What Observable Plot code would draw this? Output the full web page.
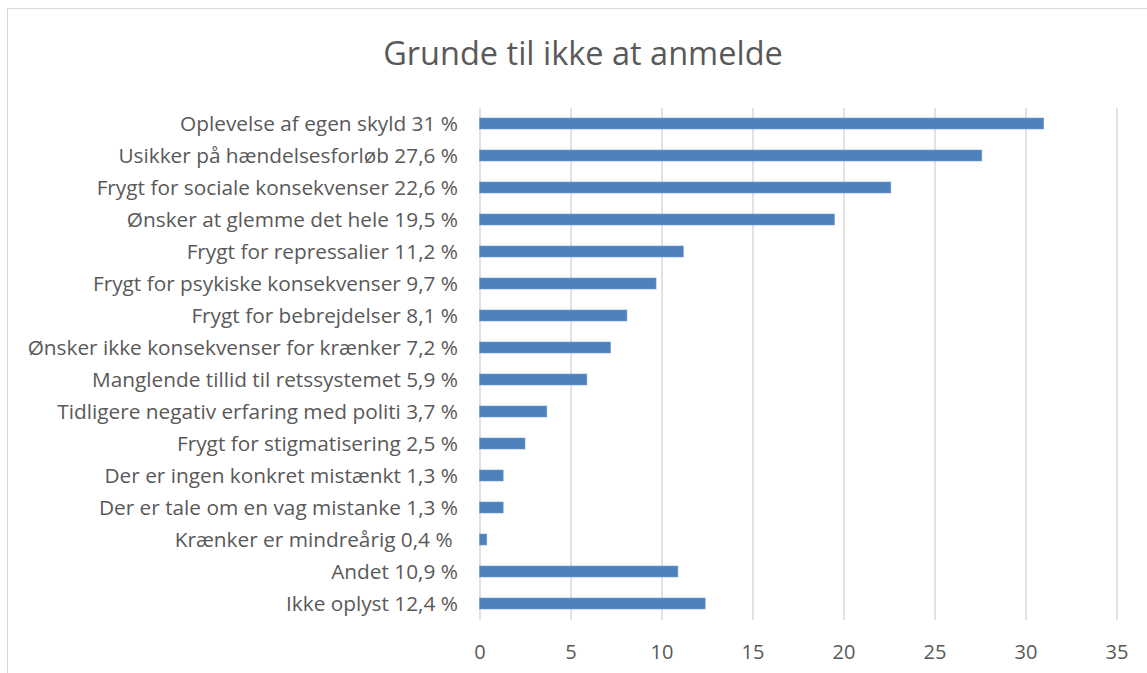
<!DOCTYPE html>
<html><head><meta charset="utf-8">
<script src="https://cdn.jsdelivr.net/npm/d3@7"></script>
<script src="https://cdn.jsdelivr.net/npm/@observablehq/plot@0.6"></script>
<style>
html,body{margin:0;padding:0;background:#fff;}
#wrap{position:relative;width:1140px;height:665px;margin-left:7px;margin-top:8px;border-left:1.5px solid #d9d9d9;border-top:1.5px solid #d9d9d9;overflow:hidden;}
#title{height:87px;line-height:88px;text-align:center;font-family:"Open Sans",sans-serif;font-size:32.5px;color:#595959;padding-left:10px;}
svg{display:block;}
</style></head>
<body>
<div id="wrap"><div id="title">Grunde til ikke at anmelde</div><div id="chart"></div></div>
<script>
const categories = [
  "Oplevelse af egen skyld 31 %",
  "Usikker på hændelsesforløb 27,6 %",
  "Frygt for sociale konsekvenser 22,6 %",
  "Ønsker at glemme det hele 19,5 %",
  "Frygt for repressalier 11,2 %",
  "Frygt for psykiske konsekvenser 9,7 %",
  "Frygt for bebrejdelser 8,1 %",
  "Ønsker ikke konsekvenser for krænker 7,2 %",
  "Manglende tillid til retssystemet 5,9 %",
  "Tidligere negativ erfaring med politi 3,7 %",
  "Frygt for stigmatisering 2,5 %",
  "Der er ingen konkret mistænkt 1,3 %",
  "Der er tale om en vag mistanke 1,3 %",
  "Krænker er mindreårig 0,4 %\u00a0",
  "Andet 10,9 %",
  "Ikke oplyst 12,4 %"
];
const values = [31, 27.6, 22.6, 19.5, 11.2, 9.7, 8.1, 7.2, 5.9, 3.7, 2.5, 1.3, 1.3, 0.4, 10.9, 12.4];
const xTicks = [0, 5, 10, 15, 20, 25, 30, 35];

const data = categories.map((c, i) => ({category: c, value: values[i]}));

const chart = Plot.plot({
  width: 1140,
  height: 577,
  marginTop: 12,
  marginBottom: 53,
  marginLeft: 471.5,
  marginRight: 31.5,
  style: {fontFamily: "'Open Sans', sans-serif", fontSize: "18px", color: "#595959", background: "#fff"},
  x: {domain: [0, 35], ticks: xTicks, label: null},
  y: {domain: categories, label: null, padding: 0.65, paddingOuter: 0.32},
  marks: [
    Plot.gridX(xTicks, {stroke: "#d9d9d9", strokeOpacity: 1, strokeWidth: 1.5}),
    Plot.barX(data, {x: "value", y: "category", fill: "#4f81bd", stroke: "#6f9bd1", strokeWidth: 0.6}),
    Plot.axisX(xTicks, {tickSize: 0, tickPadding: 24, fontSize: 20, fill: "#595959"}),
    Plot.axisY({tickSize: 0, tickPadding: 22, fontSize: 20.8, fill: "#595959"})
  ]
});
document.getElementById("chart").appendChild(chart);
</script>
</body></html>
